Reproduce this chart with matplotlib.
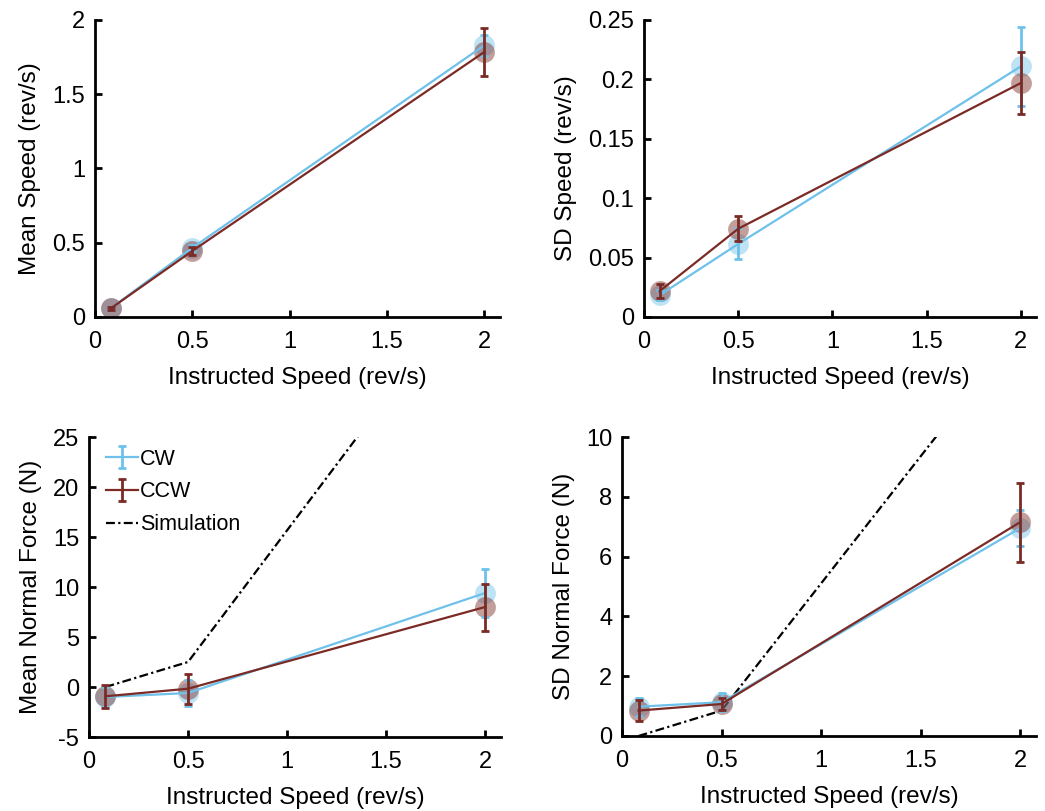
import matplotlib
matplotlib.use('Agg')
import matplotlib.pyplot as plt
from matplotlib.ticker import FuncFormatter

plt.rcParams['font.family'] = ['Liberation Sans', 'DejaVu Sans']
plt.rcParams['axes.unicode_minus'] = False

speeds = [0.083, 0.5, 2.0]

# mean speed (rev/s)
cw_mean_speed = [0.06, 0.466, 1.83]
cw_mean_speed_err = [0.01, 0.02, 0.07]
ccw_mean_speed = [0.06, 0.445, 1.785]
ccw_mean_speed_err = [0.01, 0.027, 0.16]

# SD speed (rev/s)
cw_sd_speed = [0.0184, 0.0615, 0.211]
cw_sd_speed_err = [0.004, 0.013, 0.033]
ccw_sd_speed = [0.0218, 0.0743, 0.197]
ccw_sd_speed_err = [0.0056, 0.0105, 0.026]

# mean normal force (N)
cw_mean_force = [-1.0, -0.6, 9.4]
cw_mean_force_err = [1.0, 1.3, 2.4]
ccw_mean_force = [-0.93, -0.17, 8.0]
ccw_mean_force_err = [1.15, 1.5, 2.35]
sim_mean_force = [0.0, 2.5, 42.0]

# SD normal force (N)
cw_sd_force = [0.98, 1.13, 6.95]
cw_sd_force_err = [0.3, 0.3, 0.6]
ccw_sd_force = [0.85, 1.07, 7.15]
ccw_sd_force_err = [0.36, 0.2, 1.32]
sim_sd_force = [0.0, 0.85, 13.6]

CW_COL = '#6ec1ea'
CCW_COL = '#7b2a25'

fig = plt.figure(figsize=(10.45, 8.11), dpi=100)
W, H = 1045.0, 811.0


def make_ax(l, r, t, b):
    return fig.add_axes([l / W, 1 - b / H, (r - l) / W, (b - t) / H])


panels = [
    (make_ax(95, 500, 20, 317), cw_mean_speed, cw_mean_speed_err, ccw_mean_speed, ccw_mean_speed_err,
     None, (0, 2), [0, 0.5, 1, 1.5, 2], 'Mean Speed (rev/s)'),
    (make_ax(644, 1036, 20, 317), cw_sd_speed, cw_sd_speed_err, ccw_sd_speed, ccw_sd_speed_err,
     None, (0, 0.25), [0, 0.05, 0.1, 0.15, 0.2, 0.25], 'SD Speed (rev/s)'),
    (make_ax(89, 501, 437, 737), cw_mean_force, cw_mean_force_err, ccw_mean_force, ccw_mean_force_err,
     sim_mean_force, (-5, 25), [-5, 0, 5, 10, 15, 20, 25], 'Mean Normal Force (N)'),
    (make_ax(622, 1036, 437, 736), cw_sd_force, cw_sd_force_err, ccw_sd_force, ccw_sd_force_err,
     sim_sd_force, (0, 10), [0, 2, 4, 6, 8, 10], 'SD Normal Force (N)'),
]

for i, (ax, cw, cwe, ccw, ccwe, sim, ylim, yticks, ylabel) in enumerate(panels):
    ax.plot(speeds, cw, 'o', ms=15, color=CW_COL, alpha=0.45, mec='none', zorder=2)
    ax.plot(speeds, ccw, 'o', ms=15, color=CCW_COL, alpha=0.45, mec='none', zorder=2)
    h1 = ax.errorbar(speeds, cw, yerr=cwe, color=CW_COL, lw=1.6, elinewidth=2, capsize=3,
                     capthick=2, label='CW', zorder=3)
    h2 = ax.errorbar(speeds, ccw, yerr=ccwe, color=CCW_COL, lw=1.6, elinewidth=2, capsize=3,
                     capthick=2, label='CCW', zorder=4)
    handles = [h1, h2]
    if sim is not None:
        h3, = ax.plot(speeds, sim, color='black', lw=1.6, ls=(0, (4, 1.5, 1, 1.5)),
                      label='Simulation', zorder=1)
        handles.append(h3)
    ax.set_xlim(0, 2.08)
    ax.set_ylim(*ylim)
    ax.set_xticks([0, 0.5, 1, 1.5, 2])
    ax.set_yticks(yticks)
    ax.xaxis.set_major_formatter(FuncFormatter(lambda v, p: '%g' % v))
    ax.yaxis.set_major_formatter(FuncFormatter(lambda v, p: '%g' % v))
    for s in ['top', 'right']:
        ax.spines[s].set_visible(False)
    for s in ['left', 'bottom']:
        ax.spines[s].set_linewidth(2)
    ax.tick_params(direction='in', length=5, width=2, labelsize=17)
    ax.tick_params(axis='x', pad=10)
    ax.tick_params(axis='y', pad=7)
    ax.set_xlabel('Instructed Speed (rev/s)', fontsize=17.5, labelpad=10)
    ax.set_ylabel(ylabel, fontsize=17.5, labelpad=8)
    if i == 2:
        ax.legend(handles=handles, loc='upper left', frameon=False, fontsize=15.5,
                  handlelength=1.5, handletextpad=0.1, borderaxespad=0.0,
                  labelspacing=0.55, bbox_to_anchor=(0.02, 0.99))

fig.savefig('out.png', dpi=100)
